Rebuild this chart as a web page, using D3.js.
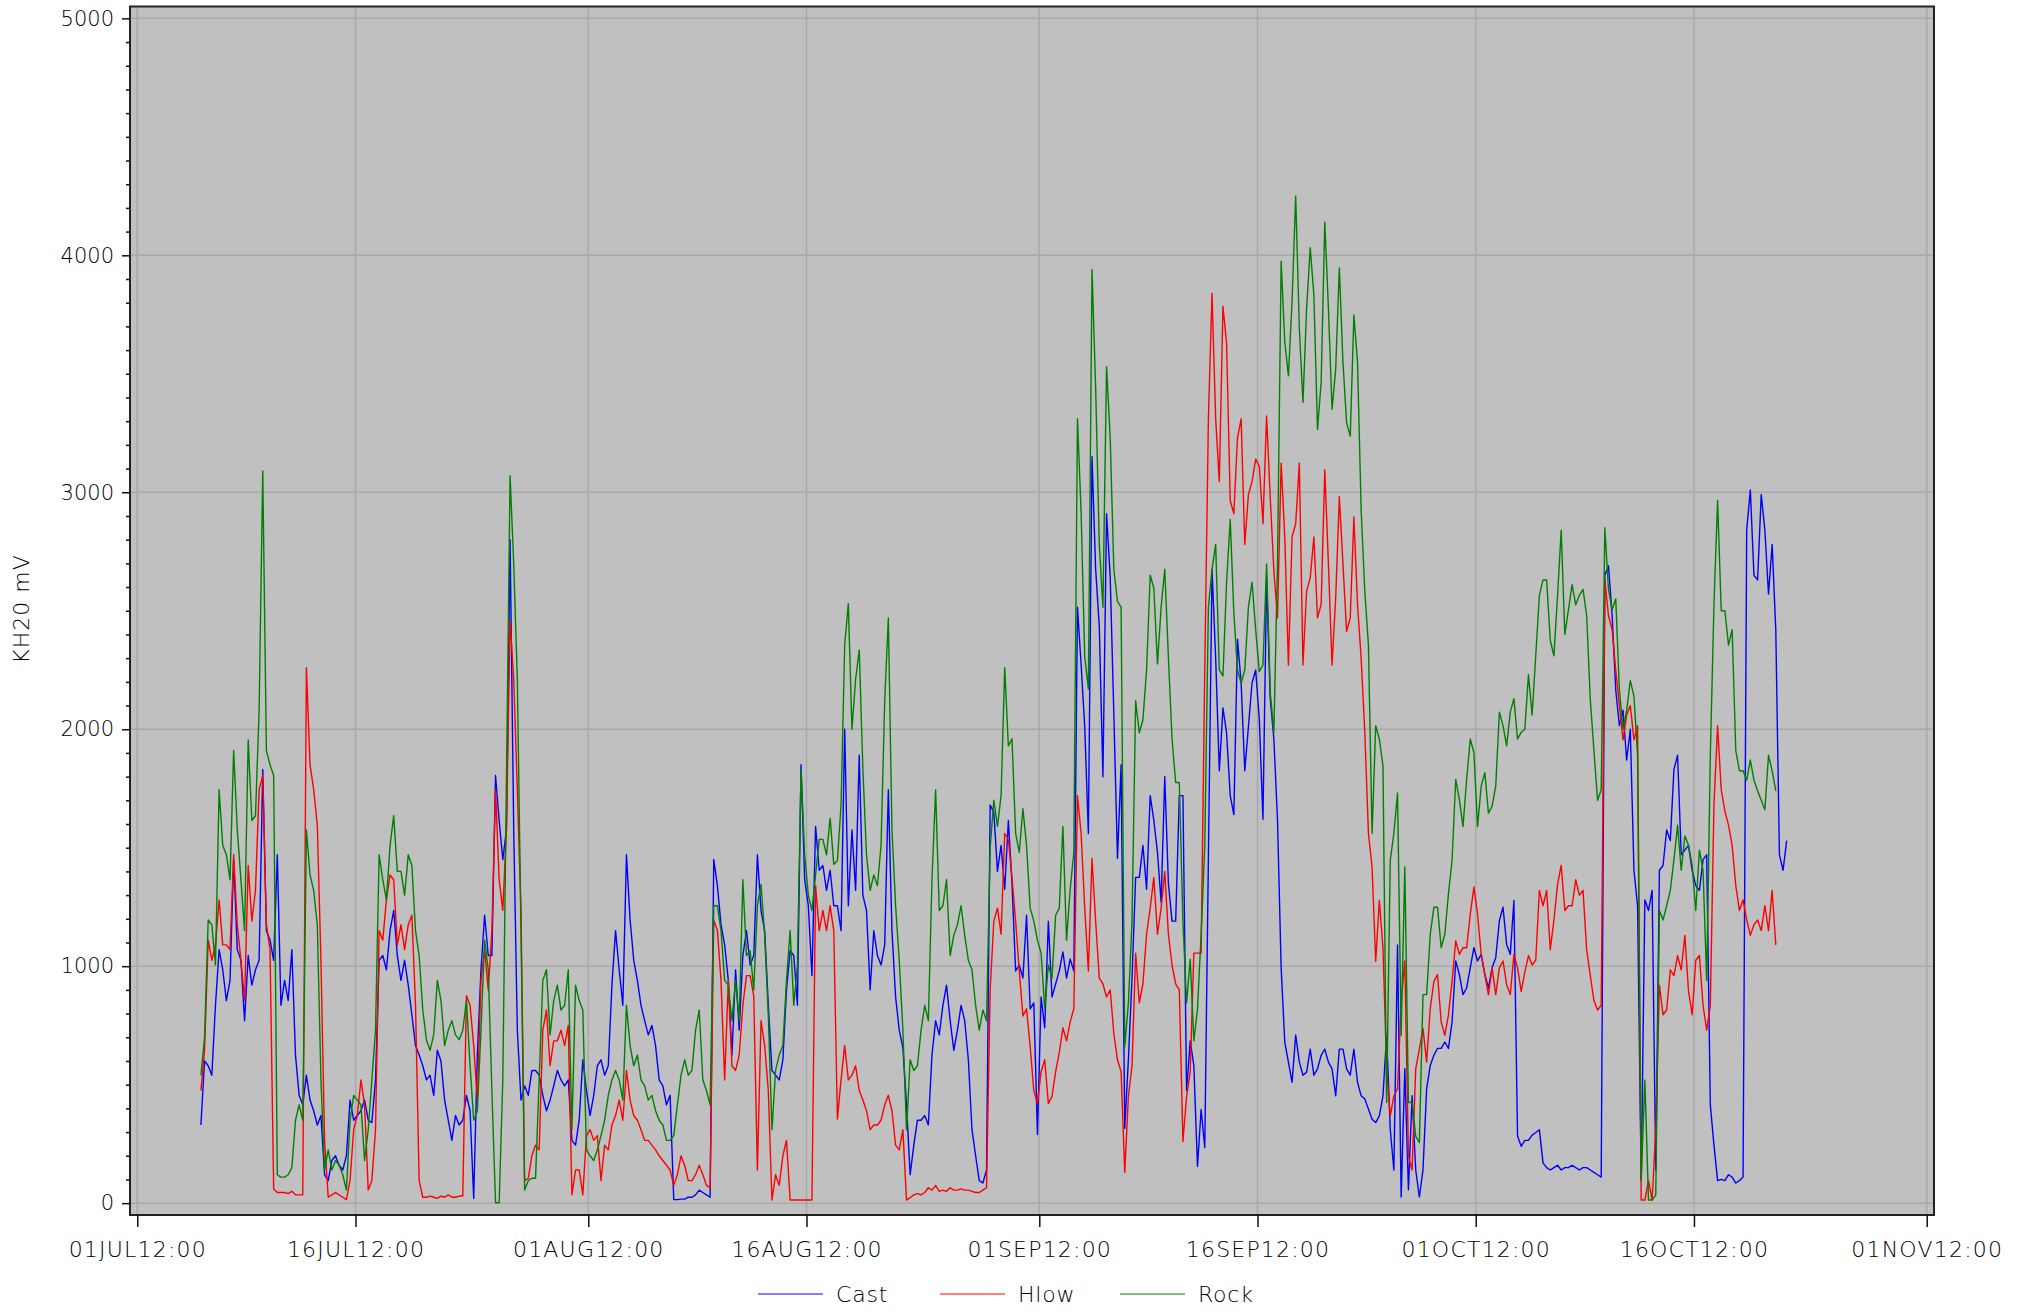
<!DOCTYPE html>
<html>
<head>
<meta charset="utf-8">
<script src="https://cdn.jsdelivr.net/npm/d3@7"></script>
<style>
  body { margin: 0; background: #fff; }
  svg text { font-family: "DejaVu Sans", sans-serif; font-weight: 200; fill: #000; }
</style>
</head>
<body>
<div id="chart"></div>
<script>
// readings every 6 hours, first one 05JUL 21:00
const startTime = Date.UTC(2021, 6, 5, 21);
const stepHours = 6;

const cast = [
  330, 600, 580, 540, 835, 1070, 985, 855, 940, 1450,
  1070, 1025, 770, 1045, 920, 985, 1025, 1830, 1150, 1110,
  1025, 1470, 835, 940, 855, 1070, 625, 455, 415, 540,
  435, 390, 330, 370, 120, 95, 180, 200, 160, 140,
  200, 435, 350, 370, 390, 435, 350, 340, 520, 1025,
  1045, 985, 1150, 1235, 1045, 940, 1025, 920, 795, 665,
  625, 580, 520, 540, 455, 645, 600, 435, 350, 265,
  370, 330, 350, 455, 390, 20, 625, 985, 1215, 1045,
  1045, 1805, 1615, 1450, 1575, 2800, 1575, 730, 435, 495,
  455, 560, 560, 540, 455, 390, 435, 495, 560, 520,
  495, 520, 265, 245, 350, 605, 475, 370, 455, 580,
  605, 540, 580, 920, 1150, 985, 835, 1470, 1195, 1025,
  940, 835, 770, 710, 750, 665, 520, 495, 415, 455,
  15, 15, 17, 17, 25, 25, 35, 55, 45, 35,
  25, 1450, 1340, 1175, 1090, 940, 625, 985, 730, 1045,
  1150, 1005, 1045, 1470, 1235, 1150, 835, 560, 540, 520,
  605, 900, 1065, 1045, 835, 1850, 1365, 1255, 960, 1590,
  1405, 1425, 1320, 1405, 1255, 1255, 1150, 2000, 1255, 1575,
  1320, 1890, 1300, 1235, 900, 1150, 1045, 1005, 1090, 1745,
  1150, 870, 730, 655, 415, 120, 245, 350, 350, 370,
  330, 625, 770, 710, 835, 920, 770, 645, 730, 835,
  770, 605, 310, 200, 95, 85, 140, 1680, 1650, 1400,
  1510, 1325, 1615, 1350, 980, 1005, 950, 1215, 820, 845,
  290, 870, 740, 1190, 870, 925, 980, 1060, 950, 1030,
  980, 2515, 2275, 2010, 1560, 3150, 2675, 2435, 1800, 2910,
  2645, 2065, 1455, 1850, 315, 605, 950, 1375, 1375, 1510,
  1325, 1720, 1615, 1480, 1270, 1800, 1350, 1190, 1190, 1720,
  1720, 475, 685, 580, 155, 395, 235, 1455, 2675, 2300,
  1825, 2090, 1985, 1720, 1640, 2380, 2195, 1825, 2010, 2195,
  2250, 2040, 1620, 2640, 2130, 1960, 1618, 993, 680, 595,
  510, 710, 595, 540, 553, 650, 540, 567, 624, 650,
  595, 567, 453, 650, 650, 567, 540, 650, 510, 453,
  440, 397, 354, 340, 368, 453, 708, 311, 140, 1090,
  26, 567, 56, 453, 140, 26, 140, 482, 581, 624,
  653, 653, 680, 653, 765, 1022, 965, 880, 908, 993,
  1078, 1022, 1050, 965, 908, 993, 1036, 1192, 1249, 1092,
  1050, 1277, 283, 240, 265, 265, 287, 298, 310, 170,
  150, 140, 150, 160, 140, 150, 150, 160, 150, 140,
  150, 150, 140, 130, 120, 110, 2650, 2690, 2480, 2165,
  2015, 2080, 1870, 2000, 1405, 1255, 95, 1280, 1235, 1320,
  140, 1405, 1425, 1575, 1530, 1830, 1890, 1470, 1490, 1510,
  1405, 1340, 1320, 1450, 1470, 415, 245, 95, 100, 95,
  120, 110, 85, 95, 110, 2840, 3010, 2650, 2630, 2990,
  2840, 2570, 2780, 2420, 1470, 1405, 1530
];

const hlow = [
  475, 645, 1110, 1025, 1090, 1280, 1090, 1090, 1070, 1470,
  1175, 1025, 855, 1425, 1190, 1320, 1745, 1805, 1175, 1070,
  60, 45, 45, 45, 40, 50, 35, 35, 35, 2260,
  1850, 1745, 1595, 1025, 265, 25, 35, 45, 35, 25,
  15, 95, 310, 370, 520, 415, 55, 95, 310, 1150,
  1110, 1280, 1385, 1365, 1090, 1175, 1070, 1175, 1215, 835,
  95, 25, 25, 30, 25, 20, 30, 25, 35, 25,
  25, 30, 30, 875, 835, 665, 435, 940, 1070, 900,
  1150, 1745, 1365, 1235, 1575, 2460, 2210, 1745, 1235, 95,
  105, 200, 245, 225, 730, 815, 580, 685, 685, 730,
  665, 750, 35, 140, 140, 35, 285, 310, 265, 285,
  95, 245, 225, 330, 370, 435, 350, 560, 435, 370,
  350, 310, 265, 265, 245, 225, 200, 180, 160, 140,
  75, 120, 200, 160, 95, 95, 120, 160, 120, 75,
  65, 1195, 1150, 940, 520, 940, 580, 560, 625, 835,
  960, 960, 875, 140, 770, 665, 475, 13, 120, 75,
  200, 265, 13, 13, 13, 13, 13, 13, 13, 1340,
  1150, 1235, 1150, 1255, 1150, 355, 520, 665, 520, 540,
  580, 475, 435, 390, 310, 330, 330, 350, 415, 455,
  390, 245, 225, 310, 13, 23, 35, 40, 35, 45,
  65, 55, 75, 50, 55, 50, 65, 55, 55, 60,
  55, 55, 50, 45, 45, 55, 65, 900, 1190, 1245,
  1135, 1560, 1535, 1375, 1190, 980, 790, 820, 660, 475,
  420, 555, 605, 420, 450, 555, 635, 740, 685, 765,
  820, 1720, 1560, 1245, 980, 1455, 1190, 950, 925, 870,
  900, 715, 605, 555, 130, 450, 580, 1055, 845, 925,
  1135, 1245, 1375, 1135, 1245, 1400, 1135, 1005, 925, 900,
  260, 450, 555, 1055, 1055, 1055, 2250, 3310, 3840, 3310,
  3045, 3785, 3630, 2965, 2910, 3230, 3310, 2780, 2990, 3045,
  3140, 3110, 2867, 3322, 2981, 2669, 2470, 3123, 2811, 2271,
  2811, 2867, 3123, 2271, 2583, 2640, 2811, 2470, 2527, 3095,
  2697, 2271, 2555, 2981, 2697, 2413, 2470, 2896, 2527, 2299,
  1987, 1561, 1419, 1021, 1277, 1078, 567, 368, 453, 482,
  850, 1022, 198, 140, 567, 650, 737, 595, 822, 936,
  965, 765, 708, 794, 936, 1107, 1050, 1078, 1078, 1220,
  1334, 1220, 1050, 965, 880, 993, 880, 993, 1022, 922,
  880, 1050, 993, 894, 975, 1045, 1005, 1025, 1320, 1255,
  1320, 1070, 1195, 1345, 1425, 1235, 1255, 1255, 1365, 1300,
  1320, 1070, 960, 855, 815, 835, 2630, 2480, 2420, 2250,
  2100, 1955, 2060, 2100, 1955, 2015, 13, 13, 95, 13,
  310, 920, 795, 815, 985, 960, 1045, 985, 1130, 895,
  795, 1025, 1045, 835, 730, 835, 1680, 2015, 1745, 1655,
  1595, 1510, 1340, 1235, 1280, 1195, 1130, 1175, 1195, 1150,
  1255, 1150, 1320, 1090
];

const rock = [
  540, 700, 1195, 1175, 1005, 1745, 1510, 1470, 1365, 1910,
  1575, 1365, 1150, 1955, 1615, 1635, 2080, 3090, 1910, 1850,
  1805, 120, 110, 110, 120, 150, 350, 415, 350, 1575,
  1385, 1320, 1175, 520, 140, 225, 140, 180, 160, 120,
  55, 350, 455, 435, 415, 180, 310, 520, 730, 1470,
  1365, 1280, 1510, 1635, 1400, 1400, 1300, 1470, 1425, 1150,
  1045, 815, 690, 645, 710, 940, 855, 665, 730, 770,
  710, 690, 730, 855, 580, 350, 390, 730, 1110, 985,
  475, 2, 2, 520, 1785, 3070, 2700, 2210, 1150, 55,
  95, 105, 105, 520, 940, 985, 710, 855, 920, 815,
  835, 985, 310, 920, 855, 815, 225, 200, 180, 225,
  285, 350, 455, 520, 560, 520, 435, 835, 665, 580,
  625, 520, 495, 435, 455, 390, 350, 330, 265, 265,
  285, 415, 540, 605, 540, 560, 730, 815, 520, 475,
  415, 1255, 1255, 1150, 940, 920, 770, 940, 770, 1365,
  1045, 1065, 900, 1255, 1345, 1130, 795, 310, 560, 625,
  665, 940, 1150, 835, 1005, 1830, 1470, 1300, 1235, 1385,
  1535, 1535, 1470, 1625, 1430, 1445, 1680, 2355, 2530, 2000,
  2210, 2335, 1830, 1470, 1320, 1385, 1340, 1510, 2120, 2470,
  1575, 1255, 1025, 730, 310, 605, 560, 580, 730, 835,
  770, 1365, 1745, 1235, 1255, 1365, 1045, 1130, 1175, 1255,
  1130, 1025, 985, 835, 730, 815, 770, 1500, 1700, 1590,
  1720, 2260, 1930, 1960, 1560, 1480, 1665, 1510, 1245, 1190,
  1110, 1055, 820, 1005, 950, 1215, 1245, 1590, 1110, 1325,
  1480, 3310, 2915, 2305, 2170, 3940, 3440, 2780, 2515, 3530,
  3230, 2675, 2540, 2515, 660, 845, 1190, 2120, 1985, 2040,
  2250, 2650, 2595, 2275, 2515, 2675, 2305, 1960, 1775, 1775,
  1190, 845, 1030, 685, 820, 1135, 1510, 2515, 2675, 2780,
  2250, 2225, 2620, 2885, 2490, 2250, 2195, 2250, 2515, 2620,
  2420, 2243, 2271, 2697, 2157, 1987, 2697, 3975, 3634, 3492,
  3805, 4250, 3691, 3379, 3776, 4032, 3833, 3265, 3464, 4140,
  3776, 3350, 3521, 3947, 3549, 3293, 3237, 3748, 3549, 2924,
  2583, 2356, 1561, 2015, 1959, 1845, 425, 1447, 1561, 1731,
  708, 1419, 425, 425, 283, 255, 880, 880, 1135, 1249,
  1249, 1078, 1135, 1305, 1447, 1788, 1703, 1589, 1788, 1959,
  1902, 1589, 1760, 1817, 1646, 1675, 1760, 2072, 2015, 1930,
  2072, 2129, 1959, 1987, 2000, 2230, 2060, 2310, 2565, 2630,
  2630, 2375, 2310, 2565, 2840, 2400, 2505, 2610, 2525, 2565,
  2590, 2480, 2125, 1910, 1700, 1745, 2850, 2590, 2505, 2550,
  2165, 2000, 2080, 2205, 2140, 1890, 95, 520, 13, 13,
  35, 1235, 1195, 1255, 1320, 1450, 1595, 1405, 1550, 1510,
  1425, 1235, 1490, 1405, 940, 1890, 2525, 2965, 2500, 2500,
  2355, 2420, 1910, 1825, 1825, 1785, 1870, 1785, 1740, 1700,
  1660, 1890, 1825, 1740
];

const seriesNames = ["Cast", "Hlow", "Rock"];
const seriesColors = ["#0000ff", "#ff0000", "#008000"];

const tickDates = [
  Date.UTC(2021, 6, 1, 12), Date.UTC(2021, 6, 16, 12),
  Date.UTC(2021, 7, 1, 12), Date.UTC(2021, 7, 16, 12),
  Date.UTC(2021, 8, 1, 12), Date.UTC(2021, 8, 16, 12),
  Date.UTC(2021, 9, 1, 12), Date.UTC(2021, 9, 16, 12),
  Date.UTC(2021, 10, 1, 12)
];
const tickLabels = ["01JUL12:00", "16JUL12:00", "01AUG12:00", "16AUG12:00", "01SEP12:00",
                    "16SEP12:00", "01OCT12:00", "16OCT12:00", "01NOV12:00"];
const yTicks = [0, 1000, 2000, 3000, 4000, 5000];

const W = 2022, H = 1312;
const plot = {left: 130, right: 1934, top: 6.5, bottom: 1215};

const svg = d3.select("#chart").append("svg")
    .attr("width", W)
    .attr("height", H);

const x = d3.scaleUtc()
    .domain([Date.UTC(2021, 6, 1), Date.UTC(2021, 10, 2)])
    .range([plot.left, plot.right]);

const y = d3.scaleLinear()
    .domain([-50, 5050])
    .range([plot.bottom, plot.top]);

// plot background
svg.append("rect")
    .attr("x", plot.left).attr("y", plot.top)
    .attr("width", plot.right - plot.left)
    .attr("height", plot.bottom - plot.top)
    .attr("fill", "#c0c0c0");

// grid
svg.append("g").selectAll("line")
    .data(tickDates)
    .enter().append("line")
    .attr("x1", d => x(d)).attr("x2", d => x(d))
    .attr("y1", plot.top).attr("y2", plot.bottom)
    .attr("stroke", "#a9a9a9").attr("stroke-width", 1.5);

svg.append("g").selectAll("line")
    .data(yTicks)
    .enter().append("line")
    .attr("x1", plot.left).attr("x2", plot.right)
    .attr("y1", d => y(d)).attr("y2", d => y(d))
    .attr("stroke", "#a9a9a9").attr("stroke-width", 1.5);

// lines
const line = d3.line()
    .x((d, i) => x(startTime + i * stepHours * 3600000))
    .y(d => y(d));

svg.append("clipPath").attr("id", "clip")
    .append("rect")
    .attr("x", plot.left).attr("y", plot.top)
    .attr("width", plot.right - plot.left)
    .attr("height", plot.bottom - plot.top);

[cast, hlow, rock].forEach((values, i) => {
    svg.append("path")
        .attr("d", line(values))
        .attr("clip-path", "url(#clip)")
        .attr("fill", "none")
        .attr("stroke", seriesColors[i])
        .attr("stroke-width", 1.4)
        .attr("stroke-linejoin", "round");
});

// frame
svg.append("rect")
    .attr("x", plot.left).attr("y", plot.top)
    .attr("width", plot.right - plot.left)
    .attr("height", plot.bottom - plot.top)
    .attr("fill", "none")
    .attr("stroke", "#222")
    .attr("stroke-width", 2);

// y axis
const yAxis = svg.append("g")
    .attr("transform", `translate(${plot.left},0)`)
    .call(d3.axisLeft(y).tickValues(yTicks).tickSize(8).tickPadding(8).tickFormat(d3.format("d")));
yAxis.select(".domain").remove();
yAxis.selectAll(".tick line").attr("stroke", "#111").attr("stroke-width", 1.5);
yAxis.selectAll(".tick text").attr("font-size", 21).style("font-family", null).attr("fill", null);

const yMinor = svg.append("g")
    .attr("transform", `translate(${plot.left},0)`)
    .call(d3.axisLeft(y).tickValues(d3.range(0, 5001, 100).filter(v => v % 1000 !== 0)).tickSize(4).tickFormat(""));
yMinor.select(".domain").remove();
yMinor.selectAll(".tick line").attr("stroke", "#111").attr("stroke-width", 1.5);

// x axis
const xAxis = svg.append("g")
    .attr("transform", `translate(0,${plot.bottom})`)
    .call(d3.axisBottom(x).tickValues(tickDates).tickSize(12).tickPadding(14)
        .tickFormat((d, i) => tickLabels[i]));
xAxis.select(".domain").remove();
xAxis.selectAll(".tick line").attr("stroke", "#111").attr("stroke-width", 1.5);
xAxis.selectAll(".tick text")
    .attr("font-size", 22)
    .attr("letter-spacing", "1.2px")
    .style("font-family", null)
    .attr("fill", null);

// y title
svg.append("text")
    .attr("transform", "translate(29,609) rotate(-90)")
    .attr("text-anchor", "middle")
    .attr("font-size", 22)
    .attr("letter-spacing", "1px")
    .text("KH20 mV");

// legend
const legendX = [758, 940, 1120];
const legend = svg.selectAll(".legend")
    .data(seriesNames)
    .enter().append("g")
    .attr("class", "legend")
    .attr("transform", (d, i) => `translate(${legendX[i]},1294)`);

legend.append("line")
    .attr("x1", 0).attr("x2", 65)
    .attr("stroke", (d, i) => seriesColors[i])
    .attr("stroke-width", 1.2);

legend.append("text")
    .attr("x", 78)
    .attr("y", 0)
    .attr("dy", "0.36em")
    .attr("font-size", 22)
    .attr("letter-spacing", "0.8px")
    .text(d => d);
</script>
</body>
</html>
